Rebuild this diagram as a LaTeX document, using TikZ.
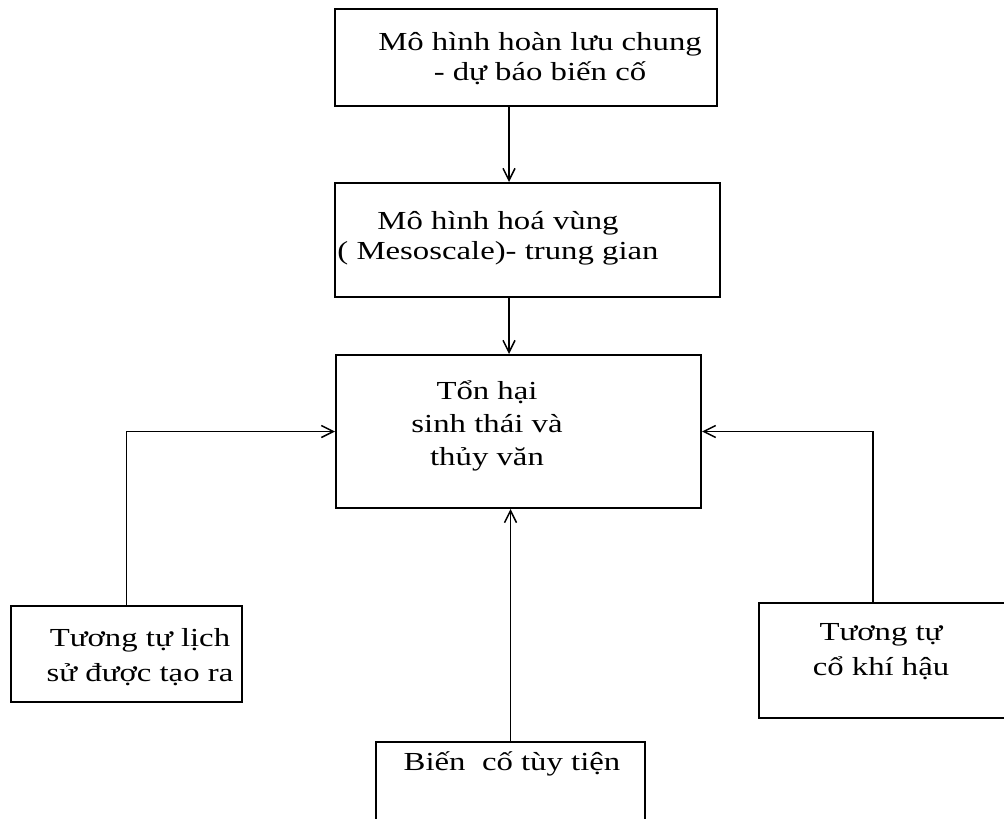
\documentclass[tikz,border=0pt]{standalone}
\usepackage{fontspec}
\setmainfont{Liberation Serif}[FakeStretch=1.26]
\usetikzlibrary{arrows.meta, positioning}

\begin{document}
\begin{tikzpicture}[x=0.5pt,y=-0.5pt,>={Straight Barb[length=6pt,width=6pt]},
    box/.style={draw,line width=1pt,rectangle,inner sep=0pt},
    txt/.style={align=center,inner sep=0pt,font=\fontsize{13pt}{15pt}\selectfont},
    arr/.style={->,line width=0.75pt}]
      \fill[white] (0,0) rectangle (1004,818);
      \useasboundingbox (0,0) rectangle (1004,818);
      % boxes
      \node[box,minimum width=191pt,minimum height=48.5pt] (b1) at (526,57.5) {};
      \node[box,minimum width=192.5pt,minimum height=57pt] (b2) at (527.5,240) {};
      \node[box,minimum width=182.5pt,minimum height=76.5pt] (b3) at (518.5,431.5) {};
      \node[box,minimum width=115.5pt,minimum height=48pt] (b4) at (126.5,654) {};
      \node[box,minimum width=124pt,minimum height=57.5pt] (b5) at (883,660.5) {};
      \node[box,minimum width=134.5pt,minimum height=44pt] (b6) at (510.5,786) {};
      % texts
      \node[txt] (t1) at (540,59) {Mô hình hoàn lưu chung\\- dự báo biến cố};
      \node[txt] (t2) at (498,238) {Mô hình hoá vùng\\( Mesoscale)- trung gian};
      \node[txt,font=\fontsize{13pt}{16.5pt}\selectfont] (t3) at (487,426) {Tổn hại\\sinh thái và\\thủy văn};
      \node[txt,font=\fontsize{13pt}{17.5pt}\selectfont] (t4) at (140,657) {Tương tự lịch\\sử được tạo ra};
      \node[txt,font=\fontsize{13pt}{17.5pt}\selectfont] (t5) at (881,652) {Tương tự\\cổ khí hậu};
      \node[txt] (t6) at (512,764) {Biến~ cố tùy tiện};
      % connectors
      \coordinate (spine) at (509,0);
      \coordinate (rtap) at (873,0);
      \draw[arr] (b1.south -| spine) -- (b2.north -| spine);
      \draw[arr] (b2.south -| spine) -- (b3.north -| spine);
      \draw[arr] (b6.north) -- (b3.south -| b6.north);
      \draw[arr] (b4.north) |- (b3.west);
      \draw[arr] (b5.north -| rtap) |- (b3.east);
\end{tikzpicture}
\end{document}
